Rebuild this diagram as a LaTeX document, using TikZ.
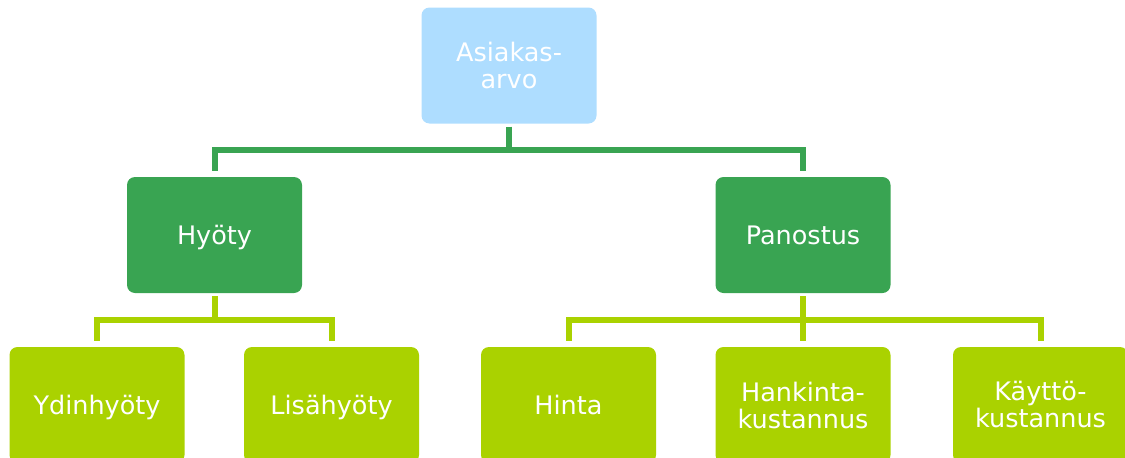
\documentclass[tikz,border=0pt]{standalone}
\usepackage{fontspec}
\setmainfont{DejaVu Sans}
\definecolor{topblue}{RGB}{174,221,255}
\definecolor{midgreen}{RGB}{57,164,82}
\definecolor{lime}{RGB}{170,210,0}
\tikzset{
  box/.style={rounded corners=8pt, minimum width=175pt, minimum height=116pt, inner sep=0pt,
    text=white, align=center, font=\fontsize{25.5}{27}\selectfont},
  oneline/.style={text height=18.5pt, text depth=0pt},
  topbox/.style={box, fill=topblue},
  midbox/.style={box, oneline, fill=midgreen},
  lowbox/.style={box, fill=lime},
  darkline/.style={draw=midgreen, line width=6pt},
  limeline/.style={draw=lime, line width=6pt},
}
\begin{document}
\begin{tikzpicture}[x=1pt,y=-1pt]
\useasboundingbox (0,0) rectangle (1125,458);
\clip (0,0) rectangle (1125,458);
\node[topbox] (asiakas) at (509,65.5) {Asiakas-\\arvo};
\node[midbox] (hyoty) at (214.5,235) {Hyöty};
\node[midbox] (panostus) at (803,235) {Panostus};
\node[lowbox, oneline] (ydin) at (97,405) {Ydinhyöty};
\node[lowbox, oneline] (lisa) at (331.5,405) {Lisähyöty};
\node[lowbox, oneline] (hinta) at (568.5,405) {Hinta};
\node[lowbox] (hankinta) at (803,405) {Hankinta-\\kustannus};
\node[lowbox] (kaytto) at (1040.5,405) {Käyttö-\\kustannus};
\coordinate (b1) at (509,150);
\coordinate (b2) at (214.5,320);
\coordinate (b3) at (803,320);
% dark green connectors
\draw[darkline, shorten <=3pt] (asiakas.south) -- (b1);
\draw[darkline, shorten <=6pt, shorten >=6pt] (hyoty.north) |- (b1) -| (panostus.north);
% lime connectors
\draw[limeline, shorten <=3pt] (hyoty.south) -- (b2);
\draw[limeline, shorten <=6pt, shorten >=6pt] (ydin.north) |- (b2) -| (lisa.north);
\draw[limeline, shorten <=3pt] (panostus.south) -- (b3);
\draw[limeline, shorten <=6pt, shorten >=6pt] (hinta.north) |- (b3) -| (kaytto.north);
\draw[limeline, shorten >=6pt] (b3) -- (hankinta.north);
\end{tikzpicture}
\end{document}
